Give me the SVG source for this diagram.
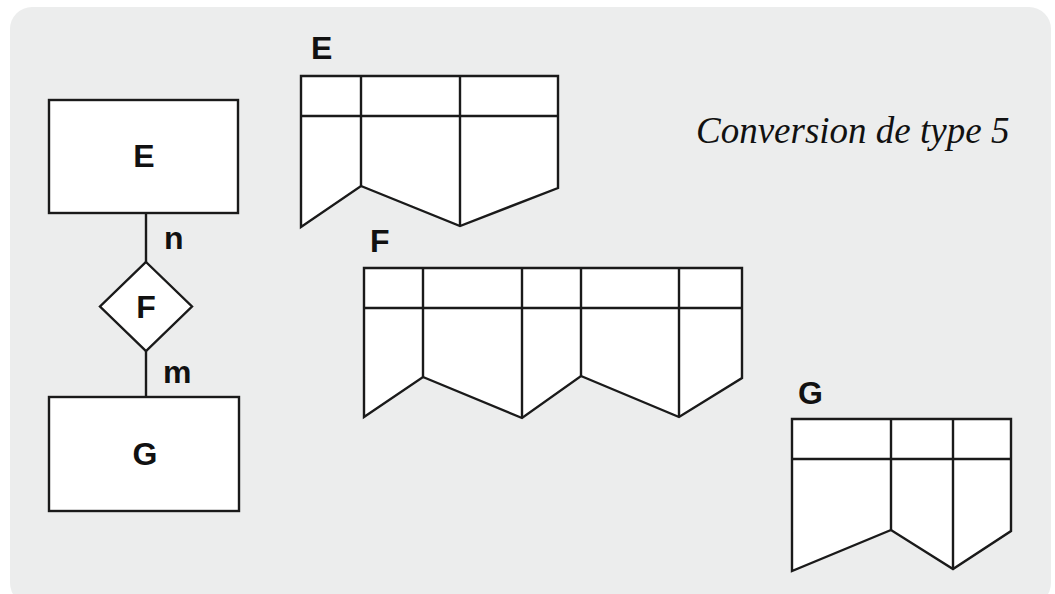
<svg xmlns="http://www.w3.org/2000/svg" width="1055" height="594" viewBox="0 0 1055 594">
<style>
.s{fill:#ffffff;stroke:#1a1a1a;stroke-width:2.4;stroke-linejoin:miter}
.l{fill:none;stroke:#1a1a1a;stroke-width:2.4}
.b{font-family:"Liberation Sans",Arial,sans-serif;font-weight:bold;font-size:32px;fill:#111}
.t{font-family:"Liberation Serif","Times New Roman",serif;font-style:italic;font-size:37px;fill:#111}
</style>
<rect x="10" y="7" width="1041" height="598" rx="22" fill="#eceded"/>
<g id="connectors">
<line class="l" x1="146" y1="213" x2="146" y2="262"/>
<line class="l" x1="146" y1="351" x2="146" y2="397"/>
<text class="b" x="164" y="249">n</text>
<text class="b" x="163" y="383">m</text>
</g>
<g id="E">
<rect class="s" x="49" y="100" width="189" height="113"/>
<text class="b" x="144" y="167" text-anchor="middle">E</text>
</g>
<g id="F">
<polygon class="s" points="146,262 192,306.5 146,351 100,306.5"/>
<text class="b" x="146" y="318" text-anchor="middle">F</text>
</g>
<g id="G">
<rect class="s" x="49" y="397" width="190" height="114"/>
<text class="b" x="145" y="465" text-anchor="middle">G</text>
</g>
<g id="tableE">
<text class="b" x="311" y="59">E</text>
<polygon class="s" points="301,76 558,76 558,188 460,226 361,186 301,227"/>
<line class="l" x1="301" y1="116" x2="558" y2="116"/>
<line class="l" x1="361" y1="76" x2="361" y2="186"/>
<line class="l" x1="460" y1="76" x2="460" y2="226"/>
</g>
<g id="tableF">
<text class="b" x="370" y="252">F</text>
<polygon class="s" points="364,268 742,268 742,378 679,417 581,376 522,418 423,377 364,417"/>
<line class="l" x1="364" y1="308" x2="742" y2="308"/>
<line class="l" x1="423" y1="268" x2="423" y2="377"/>
<line class="l" x1="522" y1="268" x2="522" y2="418"/>
<line class="l" x1="581" y1="268" x2="581" y2="376"/>
<line class="l" x1="679" y1="268" x2="679" y2="417"/>
</g>
<g id="tableG">
<text class="b" x="798" y="404">G</text>
<polygon class="s" points="792,419 1011,419 1011,531 953,569 891,530 792,571"/>
<line class="l" x1="792" y1="459" x2="1011" y2="459"/>
<line class="l" x1="891" y1="419" x2="891" y2="530"/>
<line class="l" x1="953" y1="419" x2="953" y2="569"/>
</g>
<g id="title">
<text class="t" x="696" y="143">Conversion de type 5</text>
</g>
</svg>
